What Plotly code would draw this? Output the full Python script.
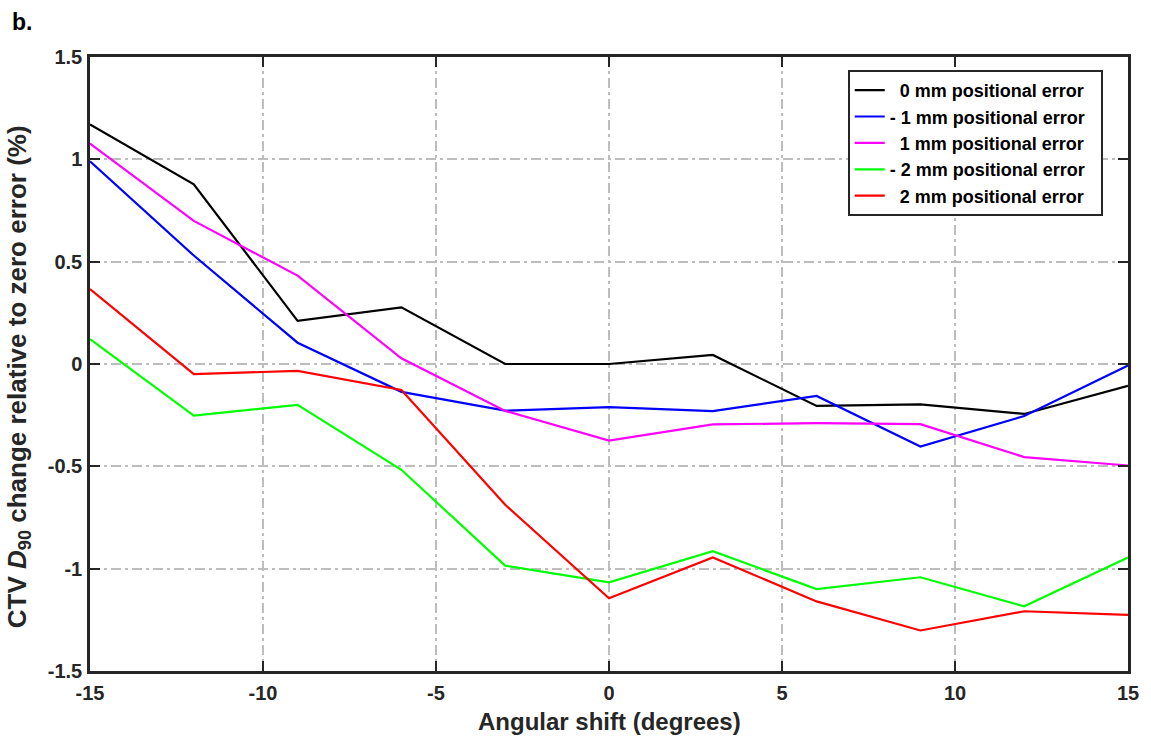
import plotly.graph_objects as go

angles = [-15, -12, -9, -6, -3, 0, 3, 6, 9, 12, 15]

err_0mm = [1.17, 0.878, 0.211, 0.277, 0.0, 0.0, 0.044, -0.205, -0.197, -0.244, -0.107]
err_m1mm = [0.99, 0.53, 0.104, -0.136, -0.228, -0.211, -0.23, -0.156, -0.403, -0.254, -0.007]
err_p1mm = [1.077, 0.699, 0.432, 0.028, -0.229, -0.374, -0.295, -0.289, -0.294, -0.455, -0.496]
err_m2mm = [0.122, -0.252, -0.2, -0.517, -0.985, -1.067, -0.915, -1.1, -1.042, -1.184, -0.945]
err_p2mm = [0.366, -0.049, -0.034, -0.127, -0.688, -1.145, -0.945, -1.16, -1.302, -1.208, -1.226]

series_names = ["\u00a0\u00a00 mm positional error\u00a0\u00a0",
                "- 1 mm positional error\u00a0\u00a0",
                "\u00a0\u00a01 mm positional error\u00a0\u00a0",
                "- 2 mm positional error\u00a0\u00a0",
                "\u00a0\u00a02 mm positional error\u00a0\u00a0"]
series_values = [err_0mm, err_m1mm, err_p1mm, err_m2mm, err_p2mm]
series_colors = ["#000000", "#0000ff", "#ff00ff", "#00ff00", "#ff0000"]

x_ticks = [-15, -10, -5, 0, 5, 10, 15]
x_ticktext = ["-15", "-10", "-5", "0", "5", "10", "15"]
y_ticks = [-1.5, -1, -0.5, 0, 0.5, 1, 1.5]
y_ticktext = ["-1.5", "-1", "-0.5", "0", "0.5", "1", "1.5"]

FONT = "Liberation Sans"
AX = "#262626"

fig = go.Figure()
for name, vals, col in zip(series_names, series_values, series_colors):
    fig.add_trace(go.Scatter(x=angles, y=vals, mode="lines", name=name,
                             line=dict(color=col, width=2.2)))

axis_common = dict(
    showline=True, linecolor=AX, linewidth=2.5, mirror="ticks",
    ticks="inside", ticklen=10, tickwidth=2, tickcolor=AX,
    showgrid=True, gridcolor="#bdbdbd", gridwidth=1.8, griddash="10px,4px,3px,4px",
    zeroline=False,
    tickfont=dict(family=FONT, size=20, color=AX, weight="bold"),
)

fig.update_xaxes(range=[-15, 15], tickvals=x_ticks, ticktext=x_ticktext,
                 ticklabelstandoff=2, **axis_common)
fig.update_yaxes(range=[-1.5, 1.5], tickvals=y_ticks, ticktext=y_ticktext,
                 ticklabelstandoff=1, **axis_common)

fig.update_layout(
    width=1151, height=740,
    margin=dict(l=90, r=23, t=57, b=69),
    paper_bgcolor="white", plot_bgcolor="white",
    showlegend=True,
    legend=dict(x=0.730, y=0.979, xanchor="left", yanchor="top",
                bgcolor="white", bordercolor=AX, borderwidth=2,
                font=dict(family=FONT, size=18, color="#000000", weight="bold"),
                tracegroupgap=0),
    annotations=[
        dict(text="b.", xref="paper", yref="paper", x=-0.077, y=1.057,
             xanchor="left", yanchor="middle", showarrow=False,
             font=dict(family=FONT, size=23, color="#000000", weight="bold")),
        dict(text="Angular shift (degrees)", xref="paper", yref="paper",
             x=0.5, y=-0.083, xanchor="center", yanchor="middle", showarrow=False,
             font=dict(family=FONT, size=24, color=AX, weight="bold")),
        dict(text="CTV <i>D</i><sub>90</sub> change relative to zero error (%)",
             xref="paper", yref="paper", x=-0.0694, y=0.48, textangle=-90,
             xanchor="center", yanchor="middle", showarrow=False,
             font=dict(family=FONT, size=26, color=AX, weight="bold")),
    ],
)

fig.write_html("out.html", config={"displayModeBar": False})
